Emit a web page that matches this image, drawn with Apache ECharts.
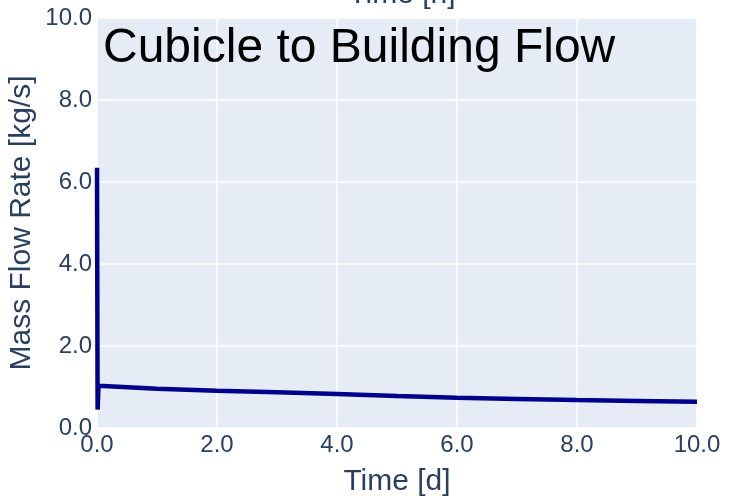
<!DOCTYPE html>
<html>
<head>
<meta charset="utf-8">
<script src="https://cdn.jsdelivr.net/npm/echarts@6/dist/echarts.min.js"></script>
<style>html,body{margin:0;padding:0;background:#fff;}#c{width:729px;height:502px;}</style>
</head>
<body>
<div id="c"></div>
<script>
const timeDays = [0, 0.01, 0.025, 1, 2, 3, 4, 5, 6, 7, 8, 9, 10];
const massFlow = [6.35, 0.45, 1.03, 0.96, 0.91, 0.87, 0.83, 0.78, 0.74, 0.71, 0.68, 0.66, 0.64];
const xTicks = [0, 2, 4, 6, 8, 10];
const yTicks = [0, 2, 4, 6, 8, 10];
const titleText = 'Cubicle to Building Flow';
const xTitle = 'Time [d]';
const yTitle = 'Mass Flow Rate [kg/s]';
const topTitle = 'Time [h]';

const font = '"Liberation Sans", Arial, sans-serif';
const tickColor = '#2a3f5f';
const chart = echarts.init(document.getElementById('c'), null, {renderer: 'canvas'});
chart.setOption({
  animation: false,
  backgroundColor: '#ffffff',
  grid: {left: 97, right: 32, top: 18, bottom: 74, show: true, backgroundColor: '#E5ECF6', borderWidth: 0},
  xAxis: {
    type: 'value', min: xTicks[0], max: xTicks[xTicks.length-1], interval: 2,
    axisLine: {show: false}, axisTick: {show: false},
    splitLine: {lineStyle: {color: '#ffffff', width: 1.5}},
    axisLabel: {margin: 5, fontSize: 24, color: tickColor, fontFamily: font, formatter: v => v.toFixed(1)}
  },
  yAxis: {
    type: 'value', min: yTicks[0], max: yTicks[yTicks.length-1], interval: 2,
    axisLine: {show: false}, axisTick: {show: false},
    splitLine: {lineStyle: {color: '#ffffff', width: 1.5}},
    axisLabel: {margin: 5, fontSize: 24, color: tickColor, fontFamily: font, formatter: v => v.toFixed(1)}
  },
  series: [{
    type: 'line',
    data: timeDays.map((t, i) => [t, massFlow[i]]),
    showSymbol: false,
    clip: false,
    lineStyle: {color: '#00008B', width: 4.5},
    itemStyle: {color: '#00008B'}
  }],
  graphic: [
    {type: 'text', x: 103, y: 49, style: {text: titleText, font: '48px ' + font, fill: '#000000', verticalAlign: 'middle'}, z: 100},
    {type: 'text', x: 397, y: 482, style: {text: xTitle, font: '30px ' + font, fill: tickColor, align: 'center', verticalAlign: 'middle'}},
    {type: 'text', x: 22, y: 223, rotation: Math.PI/2, style: {text: yTitle, font: '30px ' + font, fill: tickColor, align: 'center', verticalAlign: 'middle'}},
    {type: 'text', x: 402, y: -5, style: {text: topTitle, font: '30px ' + font, fill: tickColor, align: 'center', verticalAlign: 'middle'}}
  ]
});
</script>
</body>
</html>
